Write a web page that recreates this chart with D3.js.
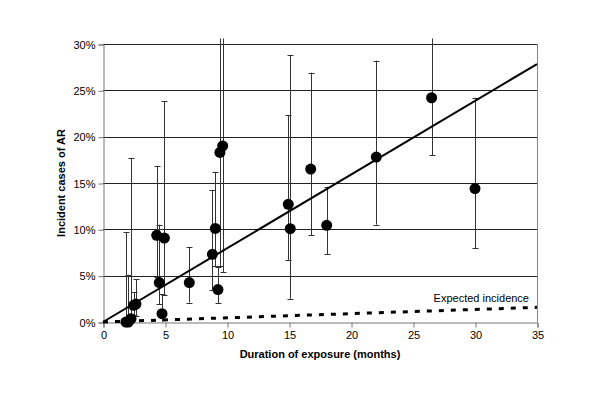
<!DOCTYPE html>
<html><head><meta charset="utf-8">
<script src="https://cdn.jsdelivr.net/npm/d3@7"></script>
<style>body{margin:0;background:#fff;} svg{display:block;font-family:"Liberation Sans",Arial,sans-serif;}</style>
</head><body>
<svg id="c" width="600" height="400"></svg>
<script>
// Data (duration in months, incidence in %, lower/upper CI in %)
const months = [1.85, 2.04, 2.26, 2.47, 2.66, 4.33, 4.54, 4.76, 4.95, 6.96, 8.82, 9.06, 9.27, 9.43, 9.65, 14.94, 15.1, 16.75, 18.04, 22.04, 26.5, 30.0];
const incidence = [0.0, 0.0, 0.36, 1.8, 1.94, 9.35, 4.25, 0.9, 9.06, 4.25, 7.3, 10.1, 3.5, 18.3, 19.0, 12.7, 10.07, 16.5, 10.43, 17.8, 24.2, 14.4];
const lowerCI = [0.0, 0.0, 0.0, 0.75, 0.6, 4.9, 1.9, 0.0, 2.9, 2.1, 3.5, 6.0, 2.0, 6.0, 5.4, 6.7, 2.5, 9.35, 7.3, 10.5, 18.0, 7.95];
const upperCI = [9.7, 5.1, 17.7, 3.2, 4.6, 16.8, 10.5, 3.0, 23.85, 8.06, 14.2, 16.2, 5.9, 30.6, 30.6, 22.3, 28.8, 26.9, 14.6, 28.2, 30.6, 24.2];
const fitLine = [[0, 0], [35, 27.84]];
const expectedLine = [[0, 0], [35, 1.58]];
const xTicks = [0, 5, 10, 15, 20, 25, 30, 35];
const yTicks = [0, 5, 10, 15, 20, 25, 30];

const svg = d3.select("#c");
const x = d3.scaleLinear().domain([0, 35]).range([103, 537]);
const y = d3.scaleLinear().domain([0, 30]).range([322, 44]);

// gridlines
svg.append("g").selectAll("line").data(yTicks.filter(d => d > 0)).join("line")
  .attr("x1", x(0)).attr("x2", x(35))
  .attr("y1", d => Math.round(y(d)) + 0.5).attr("y2", d => Math.round(y(d)) + 0.5)
  .attr("stroke", "#222").attr("stroke-width", 1);
// plot border right
svg.append("line").attr("x1", x(35) + 0.5).attr("x2", x(35) + 0.5).attr("y1", y(30)).attr("y2", y(0))
  .attr("stroke", "#888");

// axes
const yAxis = d3.axisLeft(y).tickValues(yTicks).tickFormat(d => d + "%").tickSize(5).tickPadding(3);
const xAxis = d3.axisBottom(x).tickValues(xTicks).tickFormat(d3.format("d")).tickSize(5).tickPadding(4);
const gy = svg.append("g").attr("transform", `translate(${Math.round(x(0)) + 0.5},0.5)`).call(yAxis);
const gx = svg.append("g").attr("transform", `translate(0.5,${Math.round(y(0)) + 0.5})`).call(xAxis);
[gx, gy].forEach(g => {
  g.select(".domain").attr("stroke", "#777");
  g.selectAll(".tick line").attr("stroke", "#777");
  g.selectAll(".tick text").attr("font-size", 11).attr("fill", "#000")
    .attr("font-family", "Liberation Sans, Arial, sans-serif");
});

// dashed expected incidence
const line = d3.line().x(d => x(d[0])).y(d => y(d[1]));
svg.append("path").attr("d", line(expectedLine)).attr("fill", "none")
  .attr("stroke", "#000").attr("stroke-width", 3).attr("stroke-dasharray", "5,7");
svg.append("text").attr("x", 529).attr("y", 302).attr("text-anchor", "end")
  .attr("font-size", 11).text("Expected incidence");

// error bars
const eb = svg.append("g").attr("stroke", "#333").attr("stroke-width", 1);
months.forEach((m, i) => {
  const cx = Math.round(x(m)) + 0.5;
  eb.append("line").attr("x1", cx).attr("x2", cx).attr("y1", y(lowerCI[i])).attr("y2", y(upperCI[i]));
  if (upperCI[i] < 30.1) eb.append("line").attr("x1", cx - 3).attr("x2", cx + 3)
    .attr("y1", Math.round(y(upperCI[i])) + 0.5).attr("y2", Math.round(y(upperCI[i])) + 0.5);
  if (lowerCI[i] > 0) eb.append("line").attr("x1", cx - 3).attr("x2", cx + 3)
    .attr("y1", Math.round(y(lowerCI[i])) + 0.5).attr("y2", Math.round(y(lowerCI[i])) + 0.5);
});

// fitted line
svg.append("path").attr("d", line(fitLine)).attr("fill", "none")
  .attr("stroke", "#000").attr("stroke-width", 2);

// points
svg.append("g").selectAll("circle").data(months).join("circle")
  .attr("cx", d => x(d)).attr("cy", (d, i) => y(incidence[i])).attr("r", 5.5).attr("fill", "#000");

// axis titles
svg.append("text").attr("x", 320).attr("y", 358).attr("text-anchor", "middle")
  .attr("font-size", 11).attr("font-weight", "bold").text("Duration of exposure (months)");
svg.append("text").attr("transform", `translate(65,${y(15)}) rotate(-90)`).attr("text-anchor", "middle")
  .attr("font-size", 11).attr("font-weight", "bold").text("Incident cases of AR");
</script>
</body></html>
